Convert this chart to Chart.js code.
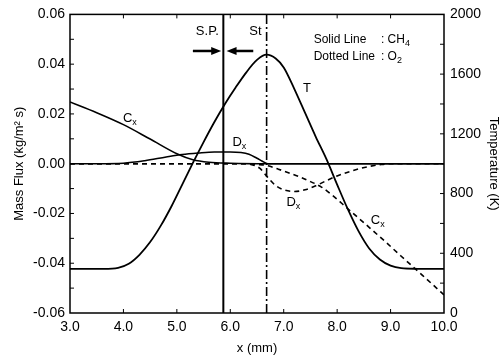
<!DOCTYPE html>
<html>
<head>
<meta charset="utf-8">
<script src="https://cdn.jsdelivr.net/npm/chart.js@4"></script>
<style>
  body { margin: 0; background: #fff; }
</style>
</head>
<body>
<canvas id="fluxChart" width="504" height="356"></canvas>
<script>
// temperature profile (K, right axis)
var tempX = [3.0, 3.6, 3.9, 4.1, 4.3, 4.5, 4.7, 4.9, 5.1, 5.3, 5.5, 5.7, 5.9, 6.1, 6.3, 6.5, 6.68, 6.85, 7.0, 7.2, 7.4, 7.6, 7.8, 8.0, 8.2, 8.4, 8.6, 8.8, 9.0, 9.2, 9.5, 10.0];
var tempK = [295, 296, 303, 330, 390, 475, 585, 715, 860, 1005, 1145, 1278, 1400, 1510, 1612, 1695, 1730, 1705, 1645, 1500, 1340, 1180, 1030, 860, 695, 548, 432, 358, 317, 300, 296, 295];

// CH4 mass flux, convective (Cx) and diffusive (Dx)
var cxCH4X = [3.0, 3.5, 4.0, 4.5, 5.0, 5.3, 5.6, 6.0, 6.7, 10.0];
var cxCH4 = [0.0248, 0.0205, 0.0157, 0.0099, 0.0040, 0.0016, 0.0006, 0.0002, 0, 0];
var dxCH4X = [3.0, 3.5, 4.0, 4.4, 4.8, 5.1, 5.4, 5.7, 6.0, 6.2, 6.35, 6.5, 6.6, 6.7, 10.0];
var dxCH4 = [0, 0, 0.0002, 0.0012, 0.0027, 0.0037, 0.0043, 0.0047, 0.0047, 0.0045, 0.0038, 0.0022, 0.0010, 0, 0];

// O2 mass flux
var cxO2X = [3.0, 6.3, 6.5, 6.7, 6.9, 7.1, 7.3, 7.5, 7.7, 7.9, 8.1, 8.3, 8.5, 8.7, 8.9, 9.2, 9.5, 9.8, 10.0];
var cxO2 = [0, 0, -0.0003, -0.0008, -0.0022, -0.0037, -0.0053, -0.0072, -0.0093, -0.0125, -0.0162, -0.0200, -0.0237, -0.0275, -0.0313, -0.0372, -0.0430, -0.0488, -0.0527];
var dxO2X = [3.0, 6.2, 6.4, 6.55, 6.7, 6.85, 7.0, 7.2, 7.4, 7.6, 7.8, 8.0, 8.2, 8.4, 8.6, 8.8, 9.0, 10.0];
var dxO2 = [0, 0, -0.0004, -0.0018, -0.0055, -0.0088, -0.0105, -0.0112, -0.0105, -0.0089, -0.0068, -0.0049, -0.0034, -0.0021, -0.0011, -0.0004, 0, 0];

// stagnation plane and flame location (mm)
var spX = 5.87;
var stX = 6.68;

// axis ticks
var xTicks = [3, 4, 5, 6, 7, 8, 9, 10];
var fluxTicks = [-0.06, -0.04, -0.02, 0, 0.02, 0.04, 0.06];
var tempTicks = [0, 400, 800, 1200, 1600, 2000];

// curve labels: main letter, subscript, anchor in data units
var curveLabels = [
    { text: 'C', sub: 'x', x: 3.99, y: 0.0181 },
    { text: 'T', sub: '', x: 7.36, y: 0.0301 },
    { text: 'D', sub: 'x', x: 6.04, y: 0.0084 },
    { text: 'D', sub: 'x', x: 7.05, y: -0.0157 },
    { text: 'C', sub: 'x', x: 8.63, y: -0.0229 }
];

var FONT = "'Liberation Sans', Arial, sans-serif";
Chart.defaults.font.family = FONT;
Chart.defaults.color = '#000';

function pts(xs, ys) {
    return xs.map(function(v, i) { return { x: v, y: ys[i] }; });
}

function textWithSub(ctx, x, y, main, sub, size) {
    ctx.font = size + 'px ' + FONT;
    ctx.textBaseline = 'middle';
    ctx.textAlign = 'left';
    ctx.fillText(main, x, y);
    if (sub) {
        var w = ctx.measureText(main).width;
        ctx.font = Math.round(size * 0.72) + 'px ' + FONT;
        ctx.fillText(sub, x + w, y + size * 0.3);
    }
}

function arrow(ctx, x1, x2, y) {
    var dir = x2 > x1 ? 1 : -1;
    ctx.lineWidth = 2.5;
    ctx.beginPath();
    ctx.moveTo(x1, y);
    ctx.lineTo(x2 - dir * 8, y);
    ctx.stroke();
    ctx.beginPath();
    ctx.moveTo(x2, y);
    ctx.lineTo(x2 - dir * 10, y - 4);
    ctx.lineTo(x2 - dir * 10, y + 4);
    ctx.closePath();
    ctx.fill();
}

// frame, inward ticks and all the text inside the plot
var decorations = {
    id: 'decorations',
    afterDraw: function(chart) {
        var ctx = chart.ctx;
        var a = chart.chartArea;
        var sx = chart.scales.x, sy = chart.scales.y, st = chart.scales.yT;
        ctx.save();
        ctx.strokeStyle = '#000';
        ctx.fillStyle = '#000';

        ctx.lineWidth = 1.5;
        ctx.strokeRect(a.left, a.top, a.right - a.left, a.bottom - a.top);

        ctx.lineWidth = 1;
        ctx.beginPath();
        for (var v = 4; v < 10; v++) {
            var px = sx.getPixelForValue(v);
            ctx.moveTo(px, a.bottom); ctx.lineTo(px, a.bottom - 4);
            ctx.moveTo(px, a.top); ctx.lineTo(px, a.top + 4);
        }
        for (var i = -5; i <= 5; i++) {
            var py = sy.getPixelForValue(i / 100);
            ctx.moveTo(a.left, py); ctx.lineTo(a.left + 4, py);
        }
        for (var k = 200; k < 2000; k += 200) {
            var pk = st.getPixelForValue(k);
            ctx.moveTo(a.right, pk); ctx.lineTo(a.right - 4, pk);
        }
        ctx.stroke();

        curveLabels.forEach(function(l) {
            textWithSub(ctx, sx.getPixelForValue(l.x), sy.getPixelForValue(l.y), l.text, l.sub, 13);
        });

        // S.P. / St markers with arrows
        var ay = sy.getPixelForValue(0.0453);
        arrow(ctx, sx.getPixelForValue(5.30), sx.getPixelForValue(5.83), ay);
        arrow(ctx, sx.getPixelForValue(6.43), sx.getPixelForValue(5.93), ay);
        ctx.font = '13px ' + FONT;
        ctx.textAlign = 'center';
        ctx.textBaseline = 'middle';
        var ty = sy.getPixelForValue(0.0531);
        ctx.fillText('S.P.', sx.getPixelForValue(5.57), ty);
        ctx.fillText('St', sx.getPixelForValue(6.47), ty);

        // line style key
        var kx = sx.getPixelForValue(7.56);
        var colonX = sx.getPixelForValue(8.82);
        var y1 = sy.getPixelForValue(0.0498);
        var y2 = sy.getPixelForValue(0.0429);
        textWithSub(ctx, kx, y1, 'Solid Line', '', 12);
        textWithSub(ctx, kx, y2, 'Dotted Line', '', 12);
        textWithSub(ctx, colonX, y1, ': CH', '4', 12);
        textWithSub(ctx, colonX, y2, ': O', '2', 12);
        ctx.restore();
    }
};

var solid = { borderColor: '#000', borderWidth: 1.6, pointRadius: 0, cubicInterpolationMode: 'monotone', fill: false };

var ctx = document.getElementById('fluxChart').getContext('2d');
var fluxChart = new Chart(ctx, {
    type: 'line',
    data: {
        datasets: [
            Object.assign({ label: 'Cx CH4', data: pts(cxCH4X, cxCH4), yAxisID: 'y' }, solid),
            Object.assign({ label: 'Dx CH4', data: pts(dxCH4X, dxCH4), yAxisID: 'y' }, solid),
            Object.assign({ label: 'Cx O2', data: pts(cxO2X, cxO2), yAxisID: 'y', borderDash: [5, 4] }, solid),
            Object.assign({ label: 'Dx O2', data: pts(dxO2X, dxO2), yAxisID: 'y', borderDash: [5, 4] }, solid),
            Object.assign({ label: 'T', data: pts(tempX, tempK), yAxisID: 'yT' }, solid, { borderWidth: 1.8 }),
            { label: 'S.P.', data: [{ x: spX, y: -0.06 }, { x: spX, y: 0.06 }], yAxisID: 'y', borderColor: '#000', borderWidth: 2, pointRadius: 0 },
            { label: 'St', data: [{ x: stX, y: -0.06 }, { x: stX, y: 0.06 }], yAxisID: 'y', borderColor: '#000', borderWidth: 1.6, pointRadius: 0, borderDash: [9, 3, 2, 3] }
        ]
    },
    options: {
        responsive: false,
        animation: false,
        layout: { padding: { top: 14, left: 0, right: 0, bottom: 0 } },
        plugins: { legend: { display: false }, tooltip: { enabled: false } },
        scales: {
            x: {
                type: 'linear', min: 3, max: 10,
                afterBuildTicks: function(s) { s.ticks = xTicks.map(function(v) { return { value: v }; }); },
                afterFit: function(s) { s.height = 43; },
                ticks: { font: { size: 14 }, padding: 6, maxRotation: 0, callback: function(v) { return v.toFixed(1); } },
                grid: { display: false, drawTicks: false },
                border: { display: false },
                title: { display: true, text: 'x (mm)', font: { size: 13 }, padding: { top: 0, bottom: 0 } }
            },
            y: {
                position: 'left', min: -0.06, max: 0.06,
                afterBuildTicks: function(s) { s.ticks = fluxTicks.map(function(v) { return { value: v }; }); },
                afterFit: function(s) { s.width = 70; },
                ticks: { font: { size: 14 }, padding: 5, callback: function(v) { return v.toFixed(2); } },
                grid: { display: false, drawTicks: false },
                border: { display: false },
                title: { display: true, text: 'Mass Flux (kg/m² s)', font: { size: 13 }, padding: { top: 12, bottom: 0 } }
            },
            yT: {
                position: 'right', min: 0, max: 2000,
                afterBuildTicks: function(s) { s.ticks = tempTicks.map(function(v) { return { value: v }; }); },
                afterFit: function(s) { s.width = 60; },
                ticks: { font: { size: 14 }, padding: 6, callback: function(v) { return String(v); } },
                grid: { display: false, drawTicks: false },
                border: { display: false },
                title: { display: true, text: 'Temperature (K)', font: { size: 13 }, padding: { top: 3, bottom: 0 } }
            }
        }
    },
    plugins: [decorations]
});
</script>
</body>
</html>
